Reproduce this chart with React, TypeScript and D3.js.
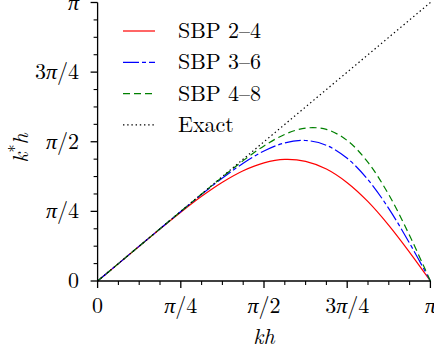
import React from "react";
import * as d3 from "d3";

// Sample abscissae kh = i·π/16, i = 0..16
const khSamples = d3.range(17).map((i) => (i * Math.PI) / 16);

// Modified wavenumber k*h read at each sample
const sbp24 = [
  0, 0.196, 0.392, 0.587, 0.776, 0.955, 1.114, 1.244, 1.333, 1.372, 1.35, 1.263,
  1.109, 0.895, 0.628, 0.324, 0,
];
const sbp36 = [
  0, 0.196, 0.393, 0.589, 0.784, 0.977, 1.161, 1.329, 1.467, 1.558, 1.585, 1.531,
  1.384, 1.143, 0.817, 0.426, 0,
];
const sbp48 = [
  0, 0.196, 0.393, 0.589, 0.785, 0.981, 1.173, 1.358, 1.524, 1.654, 1.725, 1.71,
  1.585, 1.338, 0.973, 0.513, 0,
];
const exactLine = [0, Math.PI];

const seriesNames = ["SBP 2–4", "SBP 3–6", "SBP 4–8", "Exact"];
const majorTickLabels = ["0", "π/4", "π/2", "3π/4", "π"];

const W = 434;
const H = 352;
const FS = 22;
const textStyle: React.CSSProperties = {
  fontFamily: "'Latin Modern Roman', 'Liberation Serif', serif",
  fontSize: FS,
};

const x = d3.scaleLinear().domain([0, Math.PI]).range([97.6, 430.4]);
const y = d3.scaleLinear().domain([0, Math.PI]).range([281, 2.5]);

const majorTicks = d3.range(5).map((i) => (i * Math.PI) / 4);
const minorTicks = d3
  .range(17)
  .filter((i) => i % 4 !== 0)
  .map((i) => (i * Math.PI) / 16);

const styles = [
  { color: "#ff0000", dash: "none" },
  { color: "#0000ff", dash: "16,3,4,3" },
  { color: "#008000", dash: "7,4" },
  { color: "#000000", dash: "1.4,2.8" },
];

function TickLabel({ text }: { text: string }) {
  // π is set in math italic, the rest upright
  const parts = text.split("π");
  return (
    <>
      {parts.map((p, i) => (
        <React.Fragment key={i}>
          {p && <tspan>{p}</tspan>}
          {i < parts.length - 1 && <tspan fontStyle="italic">π</tspan>}
        </React.Fragment>
      ))}
    </>
  );
}

export default function App() {
  const line = d3
    .line<[number, number]>()
    .x((d) => x(d[0]))
    .y((d) => y(d[1]))
    .curve(d3.curveCatmullRom.alpha(0.5));

  const curves = [sbp24, sbp36, sbp48].map((vals) =>
    line(khSamples.map((k, i) => [k, vals[i]] as [number, number]))
  );
  const exactPath = d3
    .line<number>()
    .x((d) => x(d))
    .y((d) => y(d))(exactLine);

  const x0 = x(0);
  const y0 = y(0);

  return (
    <svg
      width={W}
      height={H}
      style={{ position: "absolute", left: 0, top: 0, background: "#fff" }}
    >
      {/* data curves */}
      <g fill="none" strokeWidth={1.2}>
        {curves.map((d, i) => (
          <path
            key={i}
            d={d || ""}
            stroke={styles[i].color}
            strokeDasharray={styles[i].dash}
          />
        ))}
        <path d={exactPath || ""} stroke="#000" strokeDasharray={styles[3].dash} />
      </g>

      {/* axes */}
      <g stroke="#000" strokeWidth={1.3}>
        <line x1={x0} y1={y(Math.PI)} x2={x0} y2={y0} />
        <line x1={x0} y1={y0} x2={x(Math.PI)} y2={y0} />
        {majorTicks.map((t, i) => (
          <React.Fragment key={"M" + i}>
            <line x1={x(t)} y1={y0} x2={x(t)} y2={y0 + 7} />
            <line x1={x0 - 7} y1={y(t)} x2={x0} y2={y(t)} />
          </React.Fragment>
        ))}
        {minorTicks.map((t, i) => (
          <React.Fragment key={"m" + i}>
            <line x1={x(t)} y1={y0} x2={x(t)} y2={y0 + 4} strokeWidth={1.1} />
            <line x1={x0 - 4} y1={y(t)} x2={x0} y2={y(t)} strokeWidth={1.1} />
          </React.Fragment>
        ))}
      </g>

      {/* tick labels */}
      <g fill="#000">
        {majorTicks.map((t, i) => (
          <text key={"xl" + i} x={x(t)} y={313} textAnchor="middle" style={textStyle}>
            <TickLabel text={majorTickLabels[i]} />
          </text>
        ))}
        {majorTicks.map((t, i) => (
          <text key={"yl" + i} x={79} y={y(t) + 7} textAnchor="end" style={textStyle}>
            <TickLabel text={majorTickLabels[i]} />
          </text>
        ))}
      </g>

      {/* axis titles */}
      <text
        x={x(Math.PI / 2)}
        y={344}
        textAnchor="middle"
        fontStyle="italic"
        style={textStyle}
      >
        kh
      </text>
      <text
        transform={`translate(28,148) rotate(-90)`}
        textAnchor="middle"
        fontStyle="italic"
        style={textStyle}
      >
        k<tspan fontStyle="normal" fontSize={16} dy={-8}>*</tspan>
        <tspan dy={8}>h</tspan>
      </text>

      {/* legend */}
      <g>
        {seriesNames.map((name, i) => {
          const ly = 31 + i * 31.3;
          return (
            <g key={name}>
              <line
                x1={123}
                x2={155}
                y1={ly}
                y2={ly}
                stroke={styles[i].color}
                strokeWidth={1.2}
                strokeDasharray={styles[i].dash}
              />
              <text x={178} y={ly + 7} style={textStyle}>
                {name}
              </text>
            </g>
          );
        })}
      </g>
    </svg>
  );
}
